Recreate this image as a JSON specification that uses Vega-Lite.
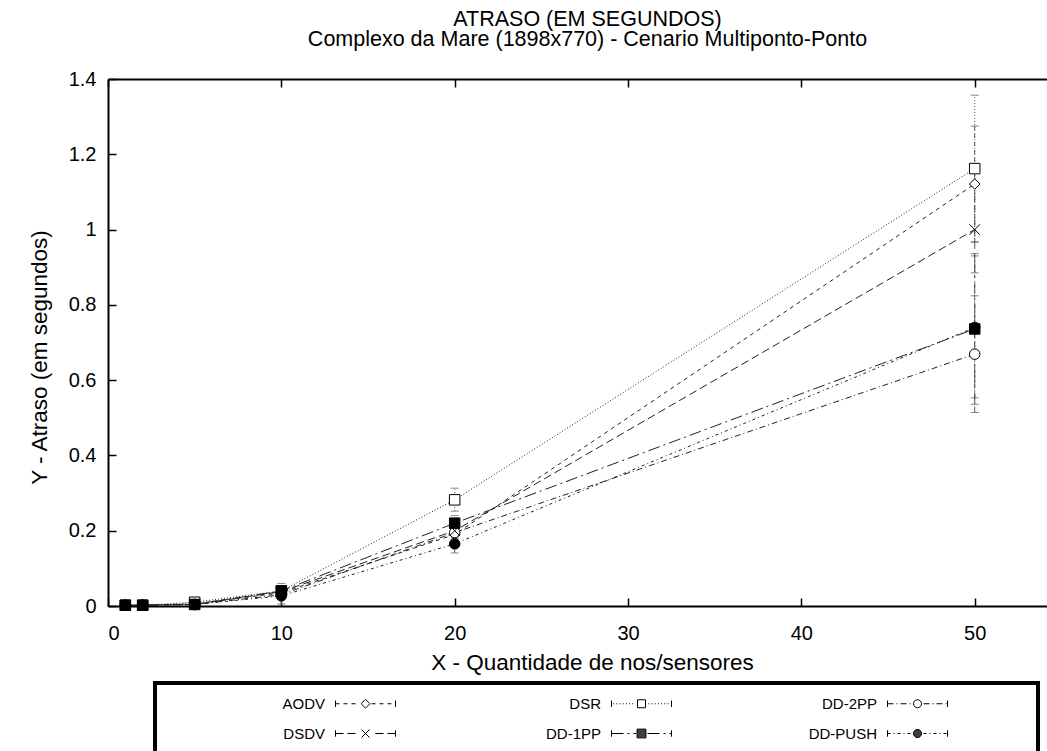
{
  "$schema": "https://vega.github.io/schema/vega-lite/v6.json",
  "width": 939,
  "height": 527,
  "autosize": {"type": "none"},
  "padding": {"left": 108, "top": 79, "right": 0, "bottom": 145},
  "background": "white",
  "config": {
    "font": "Liberation Sans",
    "view": {"stroke": null},
    "axis": {
      "labelFont": "Liberation Sans",
      "titleFont": "Liberation Sans",
      "labelFontSize": 20,
      "titleFontSize": 22.5,
      "titleFontWeight": "normal",
      "labelColor": "black",
      "titleColor": "black",
      "grid": false,
      "domainColor": "black",
      "domainWidth": 2,
      "tickColor": "black",
      "tickWidth": 1.5,
      "tickSize": -8
    },
    "legend": {
      "strokeWidth": 4
    }
  },
  "title": {
    "text": ["ATRASO (EM SEGUNDOS)", "Complexo da Mare (1898x770) - Cenario Multiponto-Ponto"],
    "fontSize": 21.5,
    "fontWeight": "normal",
    "font": "Liberation Sans",
    "color": "black",
    "lineHeight": 20,
    "offset": 19,
    "dx": 10
  },
  "data": {
    "values": [
      {"alg": "AODV", "x": 1, "y": 0.002, "lo": 0.001, "hi": 0.003},
      {"alg": "AODV", "x": 2, "y": 0.002, "lo": 0.001, "hi": 0.003},
      {"alg": "AODV", "x": 5, "y": 0.006, "lo": 0.004, "hi": 0.008},
      {"alg": "AODV", "x": 10, "y": 0.035, "lo": 0.025, "hi": 0.045},
      {"alg": "AODV", "x": 20, "y": 0.19, "lo": 0.17, "hi": 0.21},
      {"alg": "AODV", "x": 50, "y": 1.121, "lo": 0.967, "hi": 1.275},
      {"alg": "DSR", "x": 1, "y": 0.002, "lo": 0.001, "hi": 0.003},
      {"alg": "DSR", "x": 2, "y": 0.002, "lo": 0.001, "hi": 0.003},
      {"alg": "DSR", "x": 5, "y": 0.01, "lo": 0.007, "hi": 0.013},
      {"alg": "DSR", "x": 10, "y": 0.04, "lo": 0.03, "hi": 0.05},
      {"alg": "DSR", "x": 20, "y": 0.282, "lo": 0.252, "hi": 0.313},
      {"alg": "DSR", "x": 50, "y": 1.162, "lo": 0.967, "hi": 1.357},
      {"alg": "DD-2PP", "x": 1, "y": 0.002, "lo": 0.001, "hi": 0.003},
      {"alg": "DD-2PP", "x": 2, "y": 0.002, "lo": 0.001, "hi": 0.003},
      {"alg": "DD-2PP", "x": 5, "y": 0.004, "lo": 0.002, "hi": 0.006},
      {"alg": "DD-2PP", "x": 10, "y": 0.03, "lo": 0.02, "hi": 0.04},
      {"alg": "DD-2PP", "x": 20, "y": 0.195, "lo": 0.175, "hi": 0.215},
      {"alg": "DD-2PP", "x": 50, "y": 0.669, "lo": 0.514, "hi": 0.824},
      {"alg": "DSDV", "x": 1, "y": 0.002, "lo": 0.001, "hi": 0.003},
      {"alg": "DSDV", "x": 2, "y": 0.002, "lo": 0.001, "hi": 0.003},
      {"alg": "DSDV", "x": 5, "y": 0.005, "lo": 0.003, "hi": 0.007},
      {"alg": "DSDV", "x": 10, "y": 0.038, "lo": 0.028, "hi": 0.048},
      {"alg": "DSDV", "x": 20, "y": 0.2, "lo": 0.18, "hi": 0.22},
      {"alg": "DSDV", "x": 50, "y": 1.0, "lo": 0.885, "hi": 1.115},
      {"alg": "DD-1PP", "x": 1, "y": 0.002, "lo": 0.001, "hi": 0.003},
      {"alg": "DD-1PP", "x": 2, "y": 0.002, "lo": 0.001, "hi": 0.003},
      {"alg": "DD-1PP", "x": 5, "y": 0.004, "lo": 0.002, "hi": 0.006},
      {"alg": "DD-1PP", "x": 10, "y": 0.04, "lo": 0.005, "hi": 0.06},
      {"alg": "DD-1PP", "x": 20, "y": 0.22, "lo": 0.2, "hi": 0.24},
      {"alg": "DD-1PP", "x": 50, "y": 0.736, "lo": 0.536, "hi": 0.936},
      {"alg": "DD-PUSH", "x": 1, "y": 0.002, "lo": 0.001, "hi": 0.003},
      {"alg": "DD-PUSH", "x": 2, "y": 0.002, "lo": 0.001, "hi": 0.003},
      {"alg": "DD-PUSH", "x": 5, "y": 0.004, "lo": 0.002, "hi": 0.006},
      {"alg": "DD-PUSH", "x": 10, "y": 0.027, "lo": 0.017, "hi": 0.037},
      {"alg": "DD-PUSH", "x": 20, "y": 0.165, "lo": 0.141, "hi": 0.189},
      {"alg": "DD-PUSH", "x": 50, "y": 0.74, "lo": 0.553, "hi": 0.93}
    ]
  },
  "resolve": {"axis": {"x": "independent"}, "scale": {"shape": "independent", "fill": "independent"}},
  "layer": [
    {
      "mark": {"type": "rule", "color": "#555", "strokeWidth": 1},
      "encoding": {
        "x": {"field": "x", "type": "quantitative", "scale": {"domain": [0, 54.17], "nice": false, "zero": false},
              "axis": {"values": [0, 10, 20, 30, 40, 50], "title": "X - Quantidade de nos/sensores", "labelPadding": 25, "titlePadding": 8, "orient": "bottom", "titleX": 484}},
        "y": {"field": "lo", "type": "quantitative", "scale": {"domain": [0, 1.4], "nice": false},
              "axis": {"values": [0, 0.2, 0.4, 0.6, 0.8, 1, 1.2, 1.4], "format": "~g", "title": "Y - Atraso (em segundos)", "labelPadding": 20, "titlePadding": 17, "titleY": 278}},
        "y2": {"field": "hi"},
        "strokeDash": {"field": "alg", "type": "nominal", "legend": null,
                       "scale": {"domain": ["AODV", "DSR", "DD-2PP", "DSDV", "DD-1PP", "DD-PUSH"],
                                 "range": [[4, 4], [1, 2], [6, 3, 1, 3], [8, 4], [12, 4, 2, 4], [3, 3, 1, 3]]}}
      }
    },
    {
      "mark": {"type": "tick", "orient": "horizontal", "color": "#555", "size": 8, "thickness": 1},
      "encoding": {
        "x": {"field": "x", "type": "quantitative",
              "axis": {"values": [0, 10, 20, 30, 40, 50], "orient": "top", "labels": false, "title": null}},
        "y": {"field": "lo", "type": "quantitative"}
      }
    },
    {
      "mark": {"type": "tick", "orient": "horizontal", "color": "#555", "size": 8, "thickness": 1},
      "encoding": {
        "x": {"field": "x", "type": "quantitative", "axis": null},
        "y": {"field": "hi", "type": "quantitative"}
      }
    },
    {
      "mark": {"type": "line", "color": "#222", "strokeWidth": 1},
      "encoding": {
        "x": {"field": "x", "type": "quantitative", "axis": null},
        "y": {"field": "y", "type": "quantitative"},
        "detail": {"field": "alg"},
        "strokeDash": {"field": "alg", "type": "nominal", "legend": null}
      }
    },
    {
      "mark": {"type": "point", "stroke": "black", "strokeWidth": 1, "opacity": 1, "size": 110},
      "encoding": {
        "x": {"field": "x", "type": "quantitative", "axis": null},
        "y": {"field": "y", "type": "quantitative"},
        "shape": {"field": "alg", "type": "nominal", "legend": null,
                  "scale": {"domain": ["AODV", "DSR", "DD-2PP", "DSDV", "DD-1PP", "DD-PUSH"],
                            "range": ["diamond", "square", "circle", "M-1,-1L1,1M-1,1L1,-1", "square", "circle"]}},
        "fill": {"field": "alg", "type": "nominal", "legend": null,
                 "scale": {"domain": ["AODV", "DSR", "DD-2PP", "DSDV", "DD-1PP", "DD-PUSH"],
                           "range": ["white", "white", "white", "white", "black", "black"]}}
      }
    },
    {
      "transform": [{"filter": "datum.x < 0"}],
      "mark": {"type": "point", "filled": false, "color": "black", "stroke": "black", "strokeWidth": 1, "opacity": 1},
      "encoding": {
        "x": {"field": "x", "type": "quantitative", "axis": null},
        "y": {"field": "y", "type": "quantitative"},
        "shape": {"field": "alg", "type": "nominal",
                  "scale": {"domain": ["AODV", "DSDV", "DSR", "DD-1PP", "DD-2PP", "DD-PUSH"],
                            "range": [
                              "M-1.07,0L-1.07,0M20,-0.4V0.4M27.5,-0.4V0.4M20,0H20.5M21,0H21.5M22,0H22.5M24.5,0H25M25.5,0H26M26.5,0H27M23.75,-0.55L24.3,0L23.75,0.55L23.2,0Z",
                              "M-1.07,0L-1.07,0M20,-0.4V0.4M27.5,-0.4V0.4M20,0H21M21.5,0H22.5M25,0H26M26.5,0H27.5M23.25,-0.5L24.25,0.5M23.25,0.5L24.25,-0.5",
                              "M-1.07,0L-1.07,0M20,-0.4V0.4M27.5,-0.4V0.4M20.2,0H20.32M20.6,0H20.72M21,0H21.12M21.4,0H21.52M21.8,0H21.92M22.2,0H22.32M22.6,0H22.72M24.6,0H24.72M25,0H25.12M25.4,0H25.52M25.8,0H25.92M26.2,0H26.32M26.6,0H26.72M27,0H27.12M23.25,-0.5H24.25V0.5H23.25Z",
                              "M-1.07,0L-1.07,0M20,-0.4V0.4M27.5,-0.4V0.4M20,0H21.5M22,0H22.25M22.75,0H23.1M24.5,0H26M26.5,0H26.75M27.25,0H27.5M23.2,-0.55H24.3V0.55H23.2ZM23.2,-0.4375H24.3M23.2,-0.3125H24.3M23.2,-0.1875H24.3M23.2,-0.0625H24.3M23.2,0.0625H24.3M23.2,0.1875H24.3M23.2,0.3125H24.3M23.2,0.4375H24.3",
                              "M-1.07,0L-1.07,0M37,0L37,0M20,-0.4V0.4M27.5,-0.4V0.4M20,0H20.75M21.125,0H21.25M21.625,0H22.375M22.75,0H22.875M24.5,0H25.25M25.625,0H25.75M26.125,0H26.875M27.25,0H27.375M24.25,0A0.5,0.5,0,1,1,23.25,0A0.5,0.5,0,1,1,24.25,0Z",
                              "M-1.07,0L-1.07,0M37,0L37,0M20,-0.4V0.4M27.5,-0.4V0.4M20,0H20.375M20.75,0H20.875M21.25,0H21.625M22,0H22.125M22.5,0H22.875M24.5,0H24.875M25.25,0H25.375M25.75,0H26.125M26.5,0H26.625M27,0H27.375M24.25,0A0.5,0.5,0,1,1,23.25,0A0.5,0.5,0,1,1,24.25,0ZM23.508,-0.4375H23.992M23.36,-0.3125H24.14M23.287,-0.1875H24.213M23.254,-0.0625H24.246M23.254,0.0625H24.246M23.287,0.1875H24.213M23.36,0.3125H24.14M23.508,0.4375H23.992"
                            ]},
                  "legend": {"title": null, "orient": "none", "legendX": 47, "legendY": 604, "columns": 3,
                             "labelFontSize": 15, "labelFont": "Liberation Sans", "labelColor": "black",
                             "labelAlign": "right", "labelOffset": 141, "labelLimit": 0,
                             "strokeColor": "black", "padding": 12, "rowPadding": 13, "columnPadding": 42,
                             "symbolSize": 256, "symbolStrokeColor": "black", "symbolStrokeWidth": 1,
                             "symbolFillColor": "transparent", "symbolOpacity": 1}}
      }
    }
  ]
}
